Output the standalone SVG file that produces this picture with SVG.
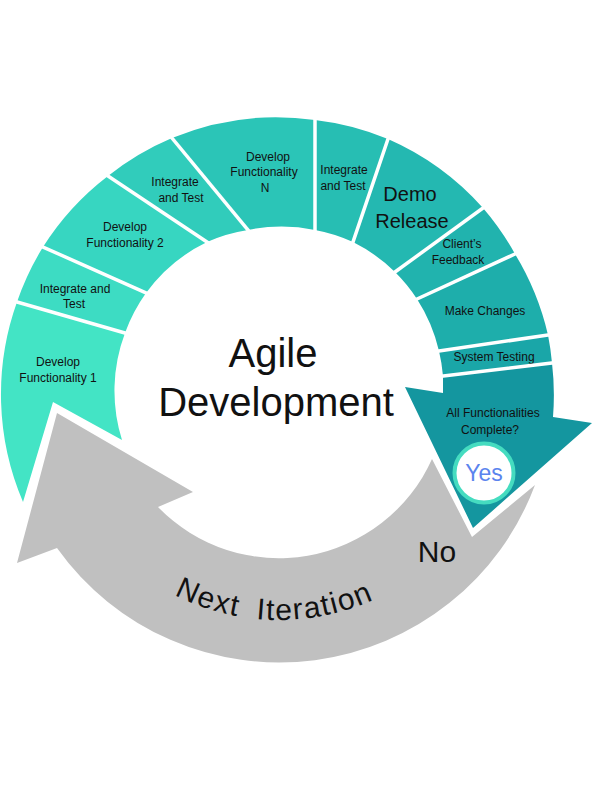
<svg xmlns="http://www.w3.org/2000/svg" width="612" height="792" viewBox="0 0 612 792">
<style>
.lbl{font-family:"Liberation Sans",Arial,sans-serif;font-size:12px;fill:#111;text-anchor:middle}
.big{font-family:"Liberation Sans",Arial,sans-serif;fill:#111;text-anchor:middle}
.arc{font-family:"Liberation Sans",Arial,sans-serif;fill:#111;text-anchor:start}
.sep{stroke:#fff;stroke-width:3.5;stroke-linecap:square}
</style>
<defs>
<path id="iterPath" d="M 79.8,505 A 230 230 0 0 0 478.2,505"/>
</defs>
<rect width="612" height="792" fill="#fff"/>
<g id="next-iteration">
<path d="M 57,413 L 193,492 L 158,507 A 168 168 0 0 0 432,459 L 472,537 L 535,485 A 273 273 0 0 1 57,548 L 17,563 Z" fill="#c0c0c0"/>
<text class="arc" font-size="30" letter-spacing="1.5" word-spacing="8"><textPath href="#iterPath" startOffset="132">Next Iteration</textPath></text>
<text class="big" x="437" y="562" font-size="30">No</text>
</g>
<g id="develop-1">
<path d="M 23,502 A 274 274 0 0 1 17,302 L 125,333 A 164 164 0 0 0 122,440 L 53,402 Z" fill="#43e4c5"/>
<text class="lbl" x="58" y="366">Develop</text>
<text class="lbl" x="58" y="382">Functionality 1</text>
</g>
<g id="integrate-1">
<path d="M 17,302 A 274 274 0 0 1 43,247 L 146,293 A 164 164 0 0 0 125,333 Z" fill="#3ddcc3"/>
<text class="lbl" x="75" y="293">Integrate and</text>
<text class="lbl" x="74" y="308">Test</text>
</g>
<g id="develop-2">
<path d="M 43,247 A 274 274 0 0 1 108,176 L 207,242 A 164 164 0 0 0 146,293 Z" fill="#37d6c1"/>
<text class="lbl" x="125" y="231">Develop</text>
<text class="lbl" x="125" y="247">Functionality 2</text>
</g>
<g id="integrate-2">
<path d="M 108,176 A 274 274 0 0 1 172,138 L 248,230 A 164 164 0 0 0 207,242 Z" fill="#31ccbb"/>
<text class="lbl" x="175" y="186">Integrate</text>
<text class="lbl" x="181" y="202">and Test</text>
</g>
<g id="develop-n">
<path d="M 172,138 A 274 274 0 0 1 315,120 L 315,230 A 164 164 0 0 0 248,230 Z" fill="#2bc5b7"/>
<text class="lbl" x="268" y="161">Develop</text>
<text class="lbl" x="264" y="176">Functionality</text>
<text class="lbl" x="265" y="192">N</text>
</g>
<g id="integrate-3">
<path d="M 315,120 A 274 274 0 0 1 388,139 L 353,242 A 164 164 0 0 0 315,230 Z" fill="#27beb3"/>
<text class="lbl" x="344" y="174">Integrate</text>
<text class="lbl" x="343" y="190">and Test</text>
</g>
<g id="demo-release">
<path d="M 388,139 A 274 274 0 0 1 483,208 L 395,272 A 164 164 0 0 0 353,242 Z" fill="#24b8b1"/>
<text class="big" x="410" y="201" font-size="20">Demo</text>
<text class="big" x="412" y="228" font-size="20">Release</text>
</g>
<g id="clients-feedback">
<path d="M 483,208 A 274 274 0 0 1 515,254 L 417,299 A 164 164 0 0 0 395,272 Z" fill="#21b3ae"/>
<text class="lbl" x="462" y="248">Client’s</text>
<text class="lbl" x="458" y="264">Feedback</text>
</g>
<g id="make-changes">
<path d="M 515,254 A 274 274 0 0 1 548,335 L 439,351 A 164 164 0 0 0 417,299 Z" fill="#1eaeab"/>
<text class="lbl" x="485" y="315">Make Changes</text>
</g>
<g id="system-testing">
<path d="M 548,335 A 274 274 0 0 1 552,363 L 443,376 A 164 164 0 0 0 439,351 Z" fill="#1aa6a8"/>
<text class="lbl" x="494" y="361" font-size="11.5">System Testing</text>
</g>
<g id="all-complete">
<path d="M 552,363 A 274 274 0 0 1 553,417 L 592,423 L 473,528 L 405,387 L 443,393 L 443,376 Z" fill="#14969f"/>
<text class="lbl" x="493" y="417">All Functionalities</text>
<text class="lbl" x="490" y="434">Complete?</text>
</g>
<g id="connectors">
<line class="sep" x1="17" y1="302" x2="125" y2="333"/>
<line class="sep" x1="43" y1="247" x2="146" y2="293"/>
<line class="sep" x1="108" y1="176" x2="207" y2="242"/>
<line class="sep" x1="172" y1="138" x2="248" y2="230"/>
<line class="sep" x1="315" y1="120" x2="315" y2="230"/>
<line class="sep" x1="388" y1="139" x2="353" y2="242"/>
<line class="sep" x1="483" y1="208" x2="395" y2="272"/>
<line class="sep" x1="515" y1="254" x2="417" y2="299"/>
<line class="sep" x1="548" y1="335" x2="439" y2="351"/>
<line class="sep" x1="552" y1="363" x2="443" y2="376"/>
</g>
<g id="yes">
<circle cx="484" cy="473" r="29.5" fill="#fff" stroke="#45dcc0" stroke-width="4"/>
<text class="big" x="484" y="481" font-size="23" style="fill:#5b84ee">Yes</text>
</g>
<g id="title">
<text class="big" x="273" y="367" font-size="40">Agile</text>
<text class="big" x="276" y="416" font-size="40">Development</text>
</g>
</svg>
